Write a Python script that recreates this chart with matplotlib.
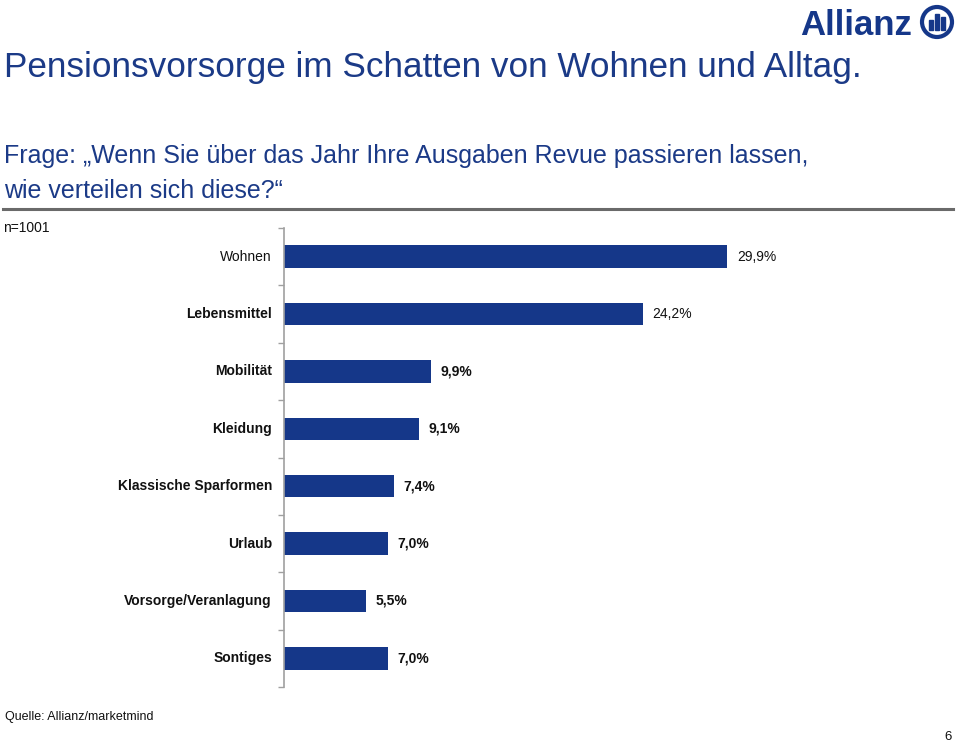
import matplotlib
matplotlib.use("Agg")
import matplotlib.pyplot as plt
from matplotlib.patches import Circle, Rectangle

categories = ["Wohnen", "Lebensmittel", "Mobilität", "Kleidung",
              "Klassische Sparformen", "Urlaub", "Vorsorge/Veranlagung", "Sontiges"]
values = [29.9, 24.2, 9.9, 9.1, 7.4, 7.0, 5.5, 7.0]
value_labels = ["29,9%", "24,2%", "9,9%", "9,1%", "7,4%", "7,0%", "5,5%", "7,0%"]
label_bold = [False, True, True, True, True, True, True, True]
value_bold = [False, False, True, True, True, True, True, True]

BLUE = "#153789"
TXT_BLUE = "#1b3a87"
plt.rcParams['font.family'] = ['Liberation Sans', 'DejaVu Sans']

W, H = 959, 742
fig = plt.figure(figsize=(W / 100, H / 100), dpi=100)

def fx(px):
    return px / W

def fy(py):
    return 1 - py / H

# axes
x0, x1 = 284, 284 + 40 * 14.82
y_top, y_bot = 228, 687
ax = fig.add_axes([fx(x0), fy(y_bot), fx(x1) - fx(x0), fy(y_top) - fy(y_bot)])
pos = list(range(len(categories)))
ax.barh(pos, values, height=0.39, color=BLUE, edgecolor="none")
ax.set_xlim(0, 40)
ax.set_ylim(len(categories) - 0.5, -0.5)
for s in ["top", "right", "bottom"]:
    ax.spines[s].set_visible(False)
ax.spines["left"].set_color("#a0a0a0")
ax.spines["left"].set_linewidth(1.2)
ax.set_xticks([])
ax.set_yticks([p - 0.5 for p in range(len(categories) + 1)])
ax.set_yticklabels([])
ax.tick_params(axis="y", length=4, color="#a0a0a0", width=1)

for p, (c, b) in enumerate(zip(categories, label_bold)):
    ax.annotate(c, xy=(0, p), xytext=(-12, 0), textcoords="offset pixels",
                ha="right", va="center", fontsize=10,
                fontweight="bold" if b else "normal", color="#111111")
for p, (v, lab, b) in enumerate(zip(values, value_labels, value_bold)):
    ax.annotate(lab, xy=(v, p), xytext=(10, 0), textcoords="offset pixels",
                ha="left", va="center", fontsize=10,
                fontweight="bold" if b else "normal", color="#111111")

# titles
fig.text(fx(4), fy(77), "Pensionsvorsorge im Schatten von Wohnen und Alltag.",
         fontsize=25.3, color=TXT_BLUE, ha="left", va="baseline")
fig.text(fx(4), fy(163), "Frage: \u201eWenn Sie über das Jahr Ihre Ausgaben Revue passieren lassen,",
         fontsize=18, color=TXT_BLUE, ha="left", va="baseline")
fig.text(fx(4), fy(198), "wie verteilen sich diese?\u201c",
         fontsize=18, color=TXT_BLUE, ha="left", va="baseline")
fig.add_artist(plt.Line2D([fx(3), fx(953)], [fy(208.5), fy(208.5)],
                          color="#6a6a6a", linewidth=2.2, transform=fig.transFigure))
fig.text(fx(3), fy(232), "n=1001", fontsize=10, color="#111111", ha="left", va="baseline")

# footer
fig.text(fx(5), fy(720), "Quelle: Allianz/marketmind", fontsize=9, color="#111111",
         ha="left", va="baseline", family=['Liberation Sans Narrow', 'Liberation Sans'])
fig.text(fx(952), fy(740), "6", fontsize=9.5, color="#111111", ha="right", va="baseline",
         family=['Liberation Sans Narrow', 'Liberation Sans'])

# logo
fig.text(fx(800), fy(35), "Allianz", fontsize=25, fontweight="bold", color=BLUE,
         ha="left", va="baseline")
cx, cy = 937, 22
logo_ax = fig.add_axes([fx(cx - 18), fy(cy + 18), fx(36), 36 / H])
logo_ax.set_xlim(-18, 18)
logo_ax.set_ylim(-18, 18)
logo_ax.set_aspect("equal")
logo_ax.axis("off")
logo_ax.add_patch(Circle((0, 0), 15, fill=False, edgecolor=BLUE, linewidth=3))
logo_ax.add_patch(Rectangle((-8, -8), 3.6, 10, color=BLUE))
logo_ax.add_patch(Rectangle((-1.8, -8), 3.6, 16, color=BLUE))
logo_ax.add_patch(Rectangle((4.4, -8), 3.6, 13, color=BLUE))

fig.savefig("out.png", dpi=100)
